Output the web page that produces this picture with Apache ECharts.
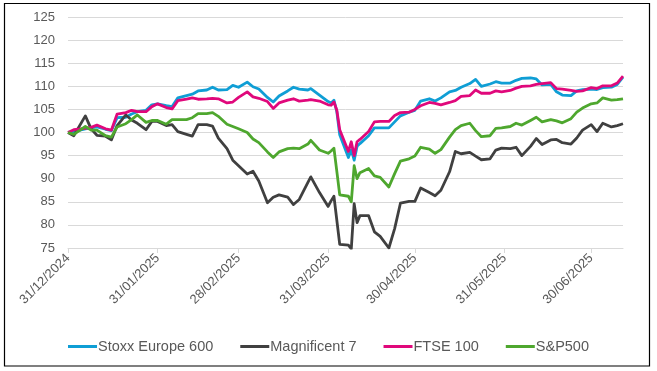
<!DOCTYPE html>
<html>
<head>
<meta charset="utf-8">
<script src="https://cdn.jsdelivr.net/npm/echarts@6/dist/echarts.min.js"></script>
<style>
html,body{margin:0;padding:0;background:#fff;}
#chart{width:657px;height:371px;}
</style>
</head>
<body>
<div id="chart"></div>
<script>
const dates = [
"2024-12-31","2025-01-02","2025-01-06","2025-01-08","2025-01-10","2025-01-13","2025-01-15","2025-01-17","2025-01-20","2025-01-22",
"2025-01-24","2025-01-27","2025-01-29","2025-01-31","2025-02-03","2025-02-05","2025-02-07","2025-02-10","2025-02-12","2025-02-14",
"2025-02-17","2025-02-19","2025-02-21","2025-02-24","2025-02-26","2025-02-28","2025-03-03","2025-03-05","2025-03-07","2025-03-10",
"2025-03-12","2025-03-14","2025-03-17","2025-03-19","2025-03-21","2025-03-24","2025-03-25","2025-03-28","2025-03-31","2025-04-01",
"2025-04-02","2025-04-03","2025-04-04","2025-04-07","2025-04-08","2025-04-09","2025-04-10","2025-04-11","2025-04-14","2025-04-16",
"2025-04-18","2025-04-21","2025-04-23","2025-04-25","2025-04-28","2025-04-30","2025-05-02","2025-05-05","2025-05-07","2025-05-09",
"2025-05-12","2025-05-14","2025-05-16","2025-05-19","2025-05-21","2025-05-23","2025-05-26","2025-05-28","2025-05-30","2025-06-02",
"2025-06-04","2025-06-06","2025-06-09","2025-06-11","2025-06-13","2025-06-16","2025-06-18","2025-06-20","2025-06-23","2025-06-25",
"2025-06-27","2025-06-30","2025-07-02","2025-07-04","2025-07-07","2025-07-09","2025-07-11"
];

const stoxxEurope600 = [
100,100.2,100.8,101.0,101.2,100.7,100.4,103.2,103.3,104.0,
104.5,104.8,106.0,106.2,105.8,105.6,107.5,108.0,108.3,109.0,
109.2,109.8,109.2,109.3,110.2,109.8,110.9,109.9,109.4,107.6,
106.6,107.9,109.0,109.8,109.4,109.2,109.5,108.1,106.7,106.4,
107.0,104.5,99.5,94.6,96.3,94.0,97.0,97.6,99.3,101.0,
101.0,101.0,102.3,103.6,104.4,104.8,106.8,107.3,106.8,107.5,
108.8,109.1,109.8,110.6,111.5,110.0,110.5,111.0,110.7,110.7,
111.3,111.7,111.8,111.6,110.3,110.4,108.8,108.1,108.0,109.0,
109.3,109.4,109.3,109.7,109.8,110.4,112.0
];

const magnificent7 = [
100,99.3,103.6,100.8,99.4,99.2,98.4,101.5,103.8,102.7,
102.0,100.6,102.4,102.4,101.5,101.7,100.2,99.6,99.2,101.7,
101.7,101.4,98.8,96.5,94.0,92.8,91.0,91.6,89.5,84.8,
86.0,86.5,86.0,84.4,85.5,89.2,90.4,87.0,84.0,85.2,
86.2,81.0,75.8,75.6,74.8,84.6,80.5,82.0,82.0,78.5,
77.5,75.0,79.2,84.7,85.1,85.1,88.0,87.0,86.3,87.5,
91.5,95.9,95.4,95.7,94.9,94.1,94.3,96.2,96.6,96.5,
96.8,95.0,97.0,98.7,97.4,98.4,98.5,97.8,97.5,98.8,
100.5,101.7,100.2,102.0,101.2,101.5,101.9
];

const ftse100 = [
100,100.6,100.9,101.1,101.6,100.8,100.5,104.0,104.3,104.8,
104.5,104.5,105.6,106.2,105.4,105.1,106.9,107.2,107.5,107.2,
107.3,107.4,107.3,106.4,106.6,107.6,108.8,107.7,107.4,106.7,
105.2,106.4,107.0,107.3,106.8,107.0,107.1,106.8,106.0,105.9,
106.6,104.8,100.6,95.9,98.0,95.0,98.0,98.5,100.2,102.3,
102.4,102.4,103.7,104.3,104.4,105.0,105.8,106.5,106.3,106.0,
106.5,106.9,107.8,108.0,109.2,108.5,108.5,109.0,108.8,109.1,
109.6,110.0,110.1,110.4,110.6,110.8,109.5,109.4,109.1,108.9,
109.0,109.7,109.5,110.1,110.1,110.7,112.2
];

const sp500 = [
100,99.6,101.3,100.5,100.5,99.3,99.0,101.2,101.9,102.8,
103.8,102.2,102.6,102.6,101.8,102.8,102.8,102.8,103.2,104.1,
104.1,104.3,103.5,101.8,101.3,100.8,100.0,98.6,97.8,95.8,
94.6,95.8,96.5,96.6,96.5,97.5,98.3,96.2,95.5,96.0,
96.6,91.6,86.5,86.2,85.0,92.8,90.0,91.3,92.2,90.6,
90.3,88.2,91.1,93.8,94.3,94.9,96.8,96.4,95.5,96.3,
99.0,100.6,101.5,102.0,100.4,99.1,99.3,100.9,101.0,101.3,
102.0,101.6,102.6,103.3,102.3,102.8,102.5,102.1,103.0,104.4,
105.3,106.2,106.4,107.5,107.0,107.1,107.3
];

const seriesNames = ["Stoxx Europe 600", "Magnificent 7", "FTSE 100", "S&P500"];
const seriesColors = ["#0F9ED5", "#404040", "#E0087B", "#4EA72E"];
const tickDates = ["2024-12-31","2025-01-31","2025-02-28","2025-03-31","2025-04-30","2025-05-31","2025-06-30"];
const axisStart = "2024-12-31";
const axisEnd = "2025-07-11";
const yTicks = [75, 80, 85, 90, 95, 100, 105, 110, 115, 120, 125];

function ts(s) {
  const p = s.split("-").map(Number);
  return new Date(p[0], p[1] - 1, p[2]).getTime();
}
function pad(n) { return (n < 10 ? "0" : "") + n; }
function fmt(v) {
  const d = new Date(v);
  return pad(d.getDate()) + "/" + pad(d.getMonth() + 1) + "/" + d.getFullYear();
}

const allValues = [stoxxEurope600, magnificent7, ftse100, sp500];
const tickTs = tickDates.map(ts);
const font = "'Liberation Sans', Arial, sans-serif";

const chart = echarts.init(document.getElementById("chart"), null, {renderer: "canvas"});
chart.setOption({
  backgroundColor: "#ffffff",
  animation: false,
  grid: {left: 68, right: 34, top: 17, bottom: 123, containLabel: false},
  xAxis: {
    type: "value",
    min: ts(axisStart),
    max: ts(axisEnd),
    axisLine: {show: true, onZero: false, lineStyle: {color: "#D9D9D9", width: 1}},
    axisTick: {show: true, customValues: tickTs, length: 5, lineStyle: {color: "#D9D9D9"}},
    axisLabel: {
      customValues: tickTs,
      rotate: 45,
      margin: 8,
      color: "#595959",
      fontSize: 13,
      fontFamily: font,
      showMinLabel: true,
      showMaxLabel: true,
      hideOverlap: false,
      formatter: function (v) { return fmt(v); }
    },
    splitLine: {show: false}
  },
  yAxis: {
    type: "value",
    min: yTicks[0],
    max: yTicks[yTicks.length - 1],
    interval: 5,
    axisLine: {show: false},
    axisTick: {show: false},
    axisLabel: {color: "#595959", fontSize: 13, fontFamily: font, margin: 13},
    splitLine: {lineStyle: {color: "#D9D9D9", width: 1}}
  },
  legend: {
    data: seriesNames,
    left: "center",
    top: 334,
    icon: "rect",
    itemWidth: 29,
    itemHeight: 3,
    itemGap: 27,
    textStyle: {color: "#595959", fontSize: 14.5, fontFamily: font, padding: [0, 0, 0, -4]}
  },
  graphic: [{
    type: "rect",
    silent: true,
    shape: {x: 4.5, y: 3.5, width: 645, height: 362.5},
    style: {fill: "none", stroke: "#000000", lineWidth: 1.2},
    z: 100
  }],
  series: seriesNames.map(function (name, i) {
    return {
      name: name,
      type: "line",
      symbol: "none",
      showSymbol: false,
      clip: true,
      color: seriesColors[i],
      lineStyle: {width: 2.8, color: seriesColors[i], join: "round"},
      data: dates.map(function (d, k) { return [ts(d), allValues[i][k]]; })
    };
  })
});
</script>
</body>
</html>
